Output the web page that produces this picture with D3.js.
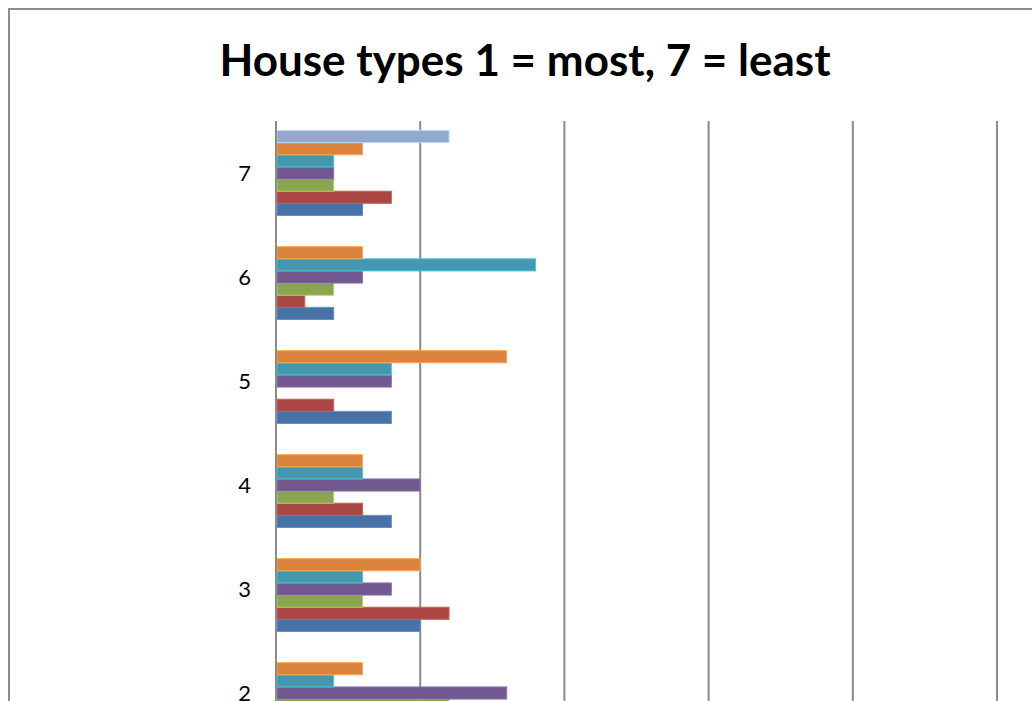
<!DOCTYPE html>
<html>
<head>
<meta charset="utf-8">
<script src="https://cdnjs.cloudflare.com/ajax/libs/d3/7.8.5/d3.min.js"></script>
<style>
  body { margin: 0; background: #fff; overflow: hidden; }
  svg { display: block; font-family: Lato, 'Open Sans', sans-serif; }
</style>
</head>
<body>
<div id="chart"></div>
<script>
// categories, bottom (1) to top (7)
var categories = ['1', '2', '3', '4', '5', '6', '7'];

// one array per series, values in category order 1..7
// (category 1 and the lower bars of 2 sit below the visible crop, guessed)
var series_names = ['Series1', 'Series2', 'Series3', 'Series4', 'Series5', 'Series6', 'Series7'];
var series_blue = [7, 4, 5, 4, 4, 2, 3];
var series_red = [5, 3, 6, 3, 2, 1, 4];
var series_green = [8, 6, 3, 2, 0, 2, 2];
var series_purple = [3, 8, 4, 5, 4, 3, 2];
var series_teal = [6, 2, 3, 3, 4, 9, 2];
var series_orange = [2, 3, 5, 3, 8, 3, 3];
var series_lightblue = [1, 0, 0, 0, 0, 0, 6];

var x_ticks = [0, 5, 10, 15, 20, 25];
var title_text = 'House types 1 = most, 7 = least';

var settings = {
  width: 1032,
  height: 701,
  frame_x: 9,
  frame_y: 9,
  frame_w: 1040,
  frame_h: 1000,
  plot_left: 276,
  plot_right: 997,
  plot_top: 121,
  plot_bottom: 849,
  colors: ['#4672A8', '#AA4744', '#89A54E', '#71588F', '#4198AF', '#DB843D', '#93A9D1'],
  grid_color: '#8a8a8a'
};

var all_series = [series_blue, series_red, series_green, series_purple, series_teal, series_orange, series_lightblue];

var svg = d3.select('#chart').append('svg')
  .attr('width', settings.width)
  .attr('height', settings.height);

// chart frame
svg.append('rect')
  .attr('x', settings.frame_x)
  .attr('y', settings.frame_y)
  .attr('width', settings.frame_w)
  .attr('height', settings.frame_h)
  .attr('fill', '#fff')
  .attr('stroke', '#8c8c8c')
  .attr('stroke-width', 2);

svg.append('text')
  .attr('x', settings.frame_x + settings.frame_w / 2 - 4)
  .attr('y', 76)
  .attr('text-anchor', 'middle')
  .style('font-size', '44px')
  .style('font-weight', 'bold')
  .style('fill', '#000')
  .text(title_text);

var x = d3.scaleLinear()
  .domain([0, 25])
  .range([settings.plot_left, settings.plot_right]);

var y = d3.scaleBand()
  .domain(categories.slice().reverse())
  .range([settings.plot_top, settings.plot_bottom])
  .paddingInner(0.183)
  .paddingOuter(0.0915);

var y_inner = d3.scaleBand()
  .domain(d3.range(all_series.length).reverse())
  .range([0, y.bandwidth()]);

// vertical gridlines
svg.selectAll('line.grid')
  .data(x_ticks)
  .enter().append('line')
  .attr('class', 'grid')
  .attr('x1', function(d) { return x(d); })
  .attr('x2', function(d) { return x(d); })
  .attr('y1', settings.plot_top)
  .attr('y2', settings.plot_bottom)
  .attr('stroke', settings.grid_color)
  .attr('stroke-width', 2);

// bars
var group = svg.selectAll('g.cat')
  .data(categories)
  .enter().append('g')
  .attr('class', 'cat')
  .attr('transform', function(d) { return 'translate(0,' + y(d) + ')'; });

group.selectAll('rect')
  .data(function(d, ci) {
    return all_series.map(function(s, si) { return { si: si, v: s[ci] }; });
  })
  .enter().append('rect')
  .filter(function(d) { return d.v > 0; })
  .attr('x', x(0) + 1)
  .attr('y', function(d) { return y_inner(d.si); })
  .attr('width', function(d) { return x(d.v) - x(0) - 1; })
  .attr('height', y_inner.bandwidth())
  .attr('fill', function(d) { return settings.colors[d.si]; })
  .attr('stroke', function(d) { return d3.color(settings.colors[d.si]).brighter(0.7); })
  .attr('stroke-width', 1);

// category axis line
svg.append('line')
  .attr('x1', x(0))
  .attr('x2', x(0))
  .attr('y1', settings.plot_top)
  .attr('y2', settings.plot_bottom)
  .attr('stroke', settings.grid_color)
  .attr('stroke-width', 2);

// category labels (the visible ones: 2 to 7)
svg.selectAll('text.cat')
  .data(categories.filter(function(d) { return y(d) < settings.height; }))
  .enter().append('text')
  .attr('class', 'cat')
  .attr('x', 251)
  .attr('y', function(d) { return y(d) + y.bandwidth() / 2 + 8; })
  .attr('text-anchor', 'end')
  .style('font-size', '22px')
  .style('fill', '#000')
  .text(function(d) { return d; });
</script>
</body>
</html>
